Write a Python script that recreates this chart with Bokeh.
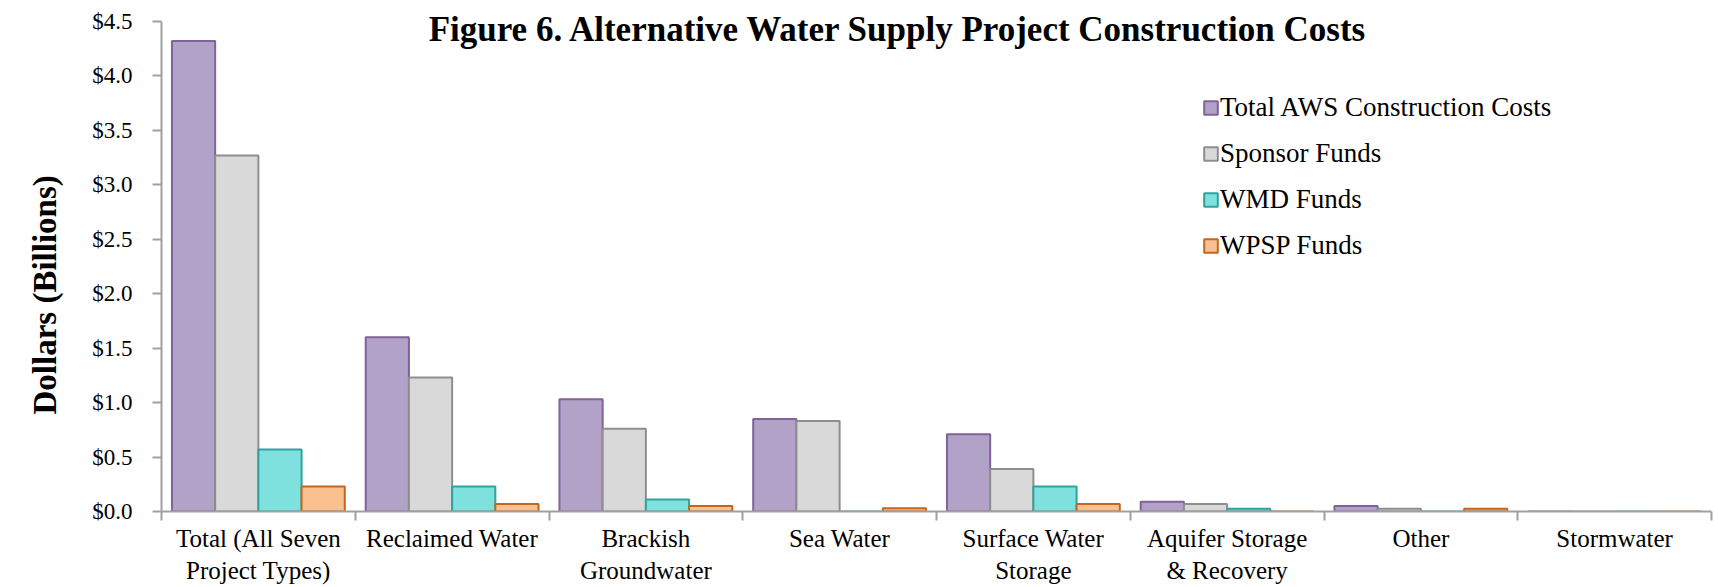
from bokeh.plotting import figure
from bokeh.models import (Range1d, FixedTicker, NumeralTickFormatter, Legend,
                          LegendItem, Label, Title, ColumnDataSource)
from bokeh.embed import file_html
from bokeh.resources import INLINE

# ---------------- data ----------------
categories = ["Total (All Seven\nProject Types)", "Reclaimed Water",
              "Brackish\nGroundwater", "Sea Water", "Surface Water\nStorage",
              "Aquifer Storage\n& Recovery", "Other", "Stormwater"]
series_names = ["Total AWS Construction Costs", "Sponsor Funds",
                "WMD Funds", "WPSP Funds"]
total_aws = [4.32, 1.60, 1.03, 0.85, 0.71, 0.09, 0.05, 0.0]
sponsor_funds = [3.27, 1.23, 0.76, 0.83, 0.39, 0.07, 0.025, 0.0]
wmd_funds = [0.57, 0.23, 0.11, 0.0, 0.23, 0.025, 0.0, 0.0]
wpsp_funds = [0.23, 0.07, 0.05, 0.03, 0.07, 0.0, 0.025, 0.0]
y_ticks = [0.0, 0.5, 1.0, 1.5, 2.0, 2.5, 3.0, 3.5, 4.0, 4.5]
title_text = "Figure 6. Alternative Water Supply Project Construction Costs"
y_label = "Dollars (Billions)"

# ---------------- styles / layout ----------------
FONT = "Liberation Serif"
fills = ["#B3A2C7", "#D9D9D9", "#7FE1DE", "#FAC090"]
lines = ["#7F6399", "#8E8E8E", "#31A29D", "#C4661F"]
AXIS_COLOR = "#A0A0A0"

W, H = 1718, 587
B_LEFT, B_RIGHT, B_BOTTOM = 161, 7, 76
TOP_PAD = 21                       # empty space above the $4.5 tick inside the frame
frame_h = H - B_BOTTOM
y_max = y_ticks[-1]
y_end = y_max * frame_h / (frame_h - TOP_PAD)

n = len(categories)
centers = [i + 0.5 for i in range(n)]
boundaries = list(range(n + 1))
bar_w = 0.223
offsets = [-1.5 * bar_w, -0.5 * bar_w, 0.5 * bar_w, 1.5 * bar_w]

p = figure(width=W, height=H, output_backend="svg", toolbar_location=None,
           x_range=Range1d(0, n), y_range=Range1d(0, y_end),
           min_border_left=B_LEFT, min_border_right=B_RIGHT, min_border_top=0,
           min_border_bottom=B_BOTTOM)
p.outline_line_color = None
p.xgrid.visible = False
p.ygrid.visible = False
p.background_fill_color = "white"
p.border_fill_color = "white"

renderers = []
for vals, off, fc, lc in zip([total_aws, sponsor_funds, wmd_funds, wpsp_funds],
                             offsets, fills, lines):
    src = ColumnDataSource(dict(x=[c + off for c in centers], top=vals))
    r = p.vbar(x="x", top="top", bottom=0, width=bar_w, source=src,
               fill_color=fc, line_color=lc, line_width=2)
    renderers.append(r)

# x axis: labels at category centres, ticks at category boundaries
xa = p.xaxis[0]
xa.ticker = FixedTicker(ticks=centers, minor_ticks=boundaries)
xa.major_label_overrides = {c: lab for c, lab in zip(centers, categories)}
xa.major_tick_line_color = None
xa.major_tick_out = 0
xa.major_tick_in = 0
xa.minor_tick_line_color = AXIS_COLOR
xa.minor_tick_line_width = 2
xa.minor_tick_out = 9
xa.minor_tick_in = 0
xa.axis_line_color = AXIS_COLOR
xa.axis_line_width = 2
xa.major_label_text_font = FONT
xa.major_label_text_font_size = "25px"
xa.major_label_text_color = "black"
xa.major_label_text_line_height = 1.2
xa.major_label_standoff = 4

ya = p.yaxis[0]
ya.ticker = FixedTicker(ticks=y_ticks)
ya.bounds = (0, y_max)
ya.formatter = NumeralTickFormatter(format="$0.0")
ya.major_tick_line_color = AXIS_COLOR
ya.major_tick_line_width = 2
ya.major_tick_out = 9
ya.major_tick_in = 0
ya.minor_tick_line_color = None
ya.axis_line_color = AXIS_COLOR
ya.axis_line_width = 2
ya.major_label_text_font = FONT
ya.major_label_text_font_size = "23px"
ya.major_label_text_color = "black"
ya.major_label_standoff = 20

# y axis title, placed as a left-side title so it can be shifted along the axis
ytitle = Title(text=y_label, align="left", offset=97, standoff=49,
               vertical_align="top",
               text_font=FONT, text_font_size="33px", text_font_style="bold",
               text_color="black")
p.add_layout(ytitle, "left")

legend = Legend(items=[LegendItem(label=nm, renderers=[r])
                       for nm, r in zip(series_names, renderers)],
                location=(1041, 250), padding=0, margin=0, spacing=15,
                glyph_width=17, glyph_height=17, label_standoff=1,
                label_text_font=FONT, label_text_font_size="27px",
                label_text_color="black", border_line_color=None,
                background_fill_alpha=0)
p.add_layout(legend, "center")

title = Label(x=737, y=482, x_units="screen", y_units="screen", text=title_text,
              text_align="center", text_baseline="alphabetic", text_font=FONT,
              text_font_size="35px", text_font_style="bold", text_color="black")
p.add_layout(title)

open("out.html", "w").write(file_html(p, INLINE))
